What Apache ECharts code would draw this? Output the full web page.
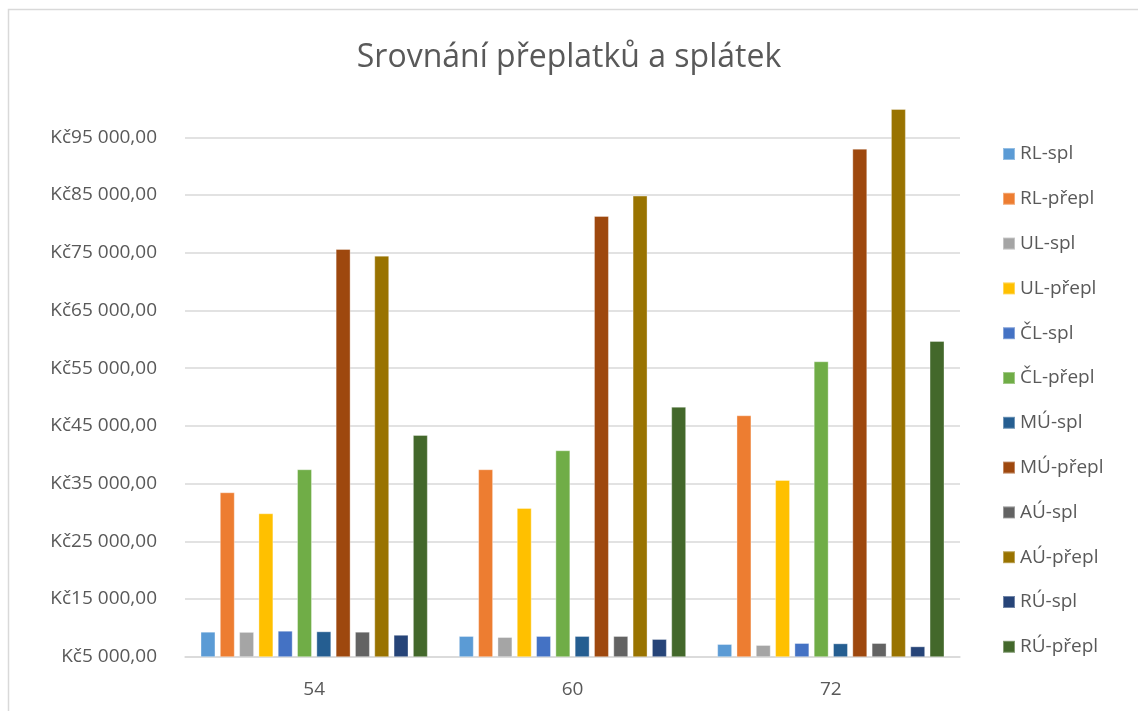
<!DOCTYPE html>
<html>
<head>
<meta charset="utf-8">
<script src="https://cdn.jsdelivr.net/npm/echarts@6/dist/echarts.min.js"></script>
<style>
html,body{margin:0;padding:0;background:#fff;}
#chart{width:1138px;height:711px;}
</style>
</head>
<body>
<div id="chart"></div>
<script>
var categories = ['54', '60', '72'];
var seriesNames = ['RL-spl','RL-přepl','UL-spl','UL-přepl','ČL-spl','ČL-přepl','MÚ-spl','MÚ-přepl','AÚ-spl','AÚ-přepl','RÚ-spl','RÚ-přepl'];
var RL_spl   = [9330, 8590, 7200];
var RL_prepl = [33490, 37480, 46830];
var UL_spl   = [9300, 8410, 7030];
var UL_prepl = [29850, 30770, 35620];
var CL_spl   = [9500, 8590, 7370];
var CL_prepl = [37480, 40770, 56190];
var MU_spl   = [9400, 8590, 7320];
var MU_prepl = [75650, 81370, 93030];
var AU_spl   = [9330, 8590, 7370];
var AU_prepl = [74490, 84890, 99900];
var RU_spl   = [8800, 8070, 6800];
var RU_prepl = [43420, 48320, 59710];
var seriesValues = [RL_spl, RL_prepl, UL_spl, UL_prepl, CL_spl, CL_prepl, MU_spl, MU_prepl, AU_spl, AU_prepl, RU_spl, RU_prepl];
var colors = ['#5B9BD5','#ED7D31','#A5A5A5','#FFC000','#4472C4','#70AD47','#255E91','#9E480E','#636363','#997300','#264478','#43682B'];

var FONT = '"Open Sans", "Noto Sans", sans-serif';
var chart = echarts.init(document.getElementById('chart'), null, {renderer: 'canvas'});

function fmt(v) {
  var s = Math.round(v).toString();
  var out = '';
  while (s.length > 3) { out = ' ' + s.slice(-3) + out; s = s.slice(0, -3); }
  return 'Kč' + s + out + ',00';
}

var series = seriesNames.map(function (name, i) {
  return {
    name: name,
    type: 'bar',
    data: seriesValues[i],
    barGap: '29%',
    barCategoryGap: '12%',
    itemStyle: { color: colors[i], borderColor: 'rgba(255,255,255,0.35)', borderWidth: 1 },
    emphasis: { disabled: true }
  };
});

chart.setOption({
  animation: false,
  backgroundColor: '#fff',
  color: colors,
  title: {
    text: 'Srovnání přeplatků a splátek',
    left: 'center',
    top: 37,
    textStyle: { fontFamily: FONT, fontSize: 32, fontWeight: 'normal', color: '#595959' }
  },
  graphic: [{
    type: 'rect',
    shape: { x: 8.5, y: 9.5, width: 1140, height: 720 },
    style: { fill: 'none', stroke: '#d9d9d9', lineWidth: 1.5 },
    silent: true, z: -1
  }],
  legend: {
    orient: 'vertical',
    left: 1002,
    top: 143,
    padding: 0,
    itemWidth: 12,
    itemHeight: 12,
    itemGap: 22.8,
    icon: 'rect',
    data: seriesNames,
    textStyle: { fontFamily: FONT, fontSize: 19, color: '#595959', lineHeight: 22 }
  },
  grid: { left: 185, right: 178, top: 108.4, bottom: 54.3, containLabel: false },
  xAxis: {
    type: 'category',
    data: categories,
    axisLine: { lineStyle: { color: '#d9d9d9', width: 1.5 } },
    axisTick: { show: false },
    axisLabel: { fontFamily: FONT, fontSize: 19, color: '#595959', margin: 23 }
  },
  yAxis: {
    type: 'value',
    min: 5000,
    max: 100000,
    interval: 10000,
    axisLine: { show: false },
    axisTick: { show: false },
    splitLine: { show: true, showMaxLine: false, lineStyle: { color: '#d9d9d9', width: 1.5 } },
    axisLabel: {
      fontFamily: FONT, fontSize: 19, color: '#595959', margin: 28,
      showMaxLabel: false,
      formatter: function (v) { return v >= 100000 ? '' : fmt(v); }
    }
  },
  series: series
});
</script>
</body>
</html>
